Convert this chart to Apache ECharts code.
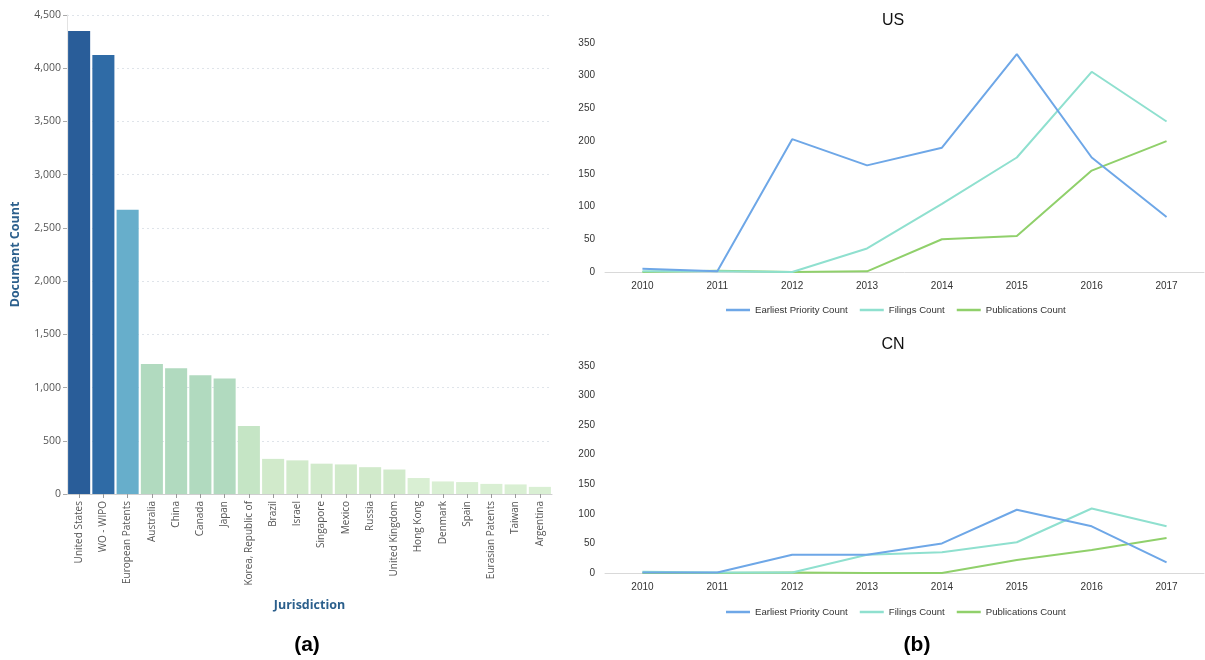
<!DOCTYPE html>
<html>
<head>
<meta charset="utf-8">
<script src="https://cdn.jsdelivr.net/npm/echarts@6/dist/echarts.min.js"></script>
<style>html,body{margin:0;padding:0;background:#fff}#c{width:1205px;height:660px}</style>
</head>
<body>
<div id="c"></div>
<script>
// ---- Data (a) ----
const jurisdictions = ['United States','WO - WIPO','European Patents','Australia','China','Canada','Japan','Korea, Republic of','Brazil','Israel','Singapore','Mexico','Russia','United Kingdom','Hong Kong','Denmark','Spain','Eurasian Patents','Taiwan','Argentina'];
const documentCounts = [4350, 4125, 2670, 1222, 1182, 1115, 1085, 640, 330, 316, 285, 278, 252, 230, 150, 118, 112, 95, 90, 67];

// ---- Data (b) ----
const years = ['2010','2011','2012','2013','2014','2015','2016','2017'];
const seriesNames = ['Earliest Priority Count','Filings Count','Publications Count'];
const usEarliest = [5, 1, 203, 163, 190, 333, 175, 84];
const usFilings = [1, 1, 0, 36, 104, 175, 306, 230];
const usPublications = [0, 2, 0, 1, 50, 55, 155, 200];
const cnEarliest = [1, 1, 31, 31, 50, 107, 79, 18];
const cnFilings = [2, 1, 1, 31, 35, 52, 109, 79];
const cnPublications = [0, 0, 1, 0, 0, 22, 39, 59];
const panelTitles = ['US', 'CN'];
const captions = ['(a)', '(b)'];
const lineTicksMax = 350;

const lineColors = ['#6ea7e7', '#8fe0cf', '#90d06b'];

function barColor(v) {
  if (v >= 4300) return '#295d99';
  if (v >= 4000) return '#2f6ba6';
  if (v >= 2000) return '#67aecb';
  if (v >= 1000) return '#b1dabf';
  if (v >= 500) return '#c5e5c5';
  if (v >= 200) return '#d1eacb';
  return '#d9efd3';
}

const chart = echarts.init(document.getElementById('c'));
const lineFont = 'Liberation Sans, Arial, Helvetica, sans-serif';

function lineSeries(xi, vals, k) {
  return {
    name: seriesNames[k], type: 'line', xAxisIndex: xi, yAxisIndex: xi,
    data: vals, symbol: 'none', smooth: false,
    lineStyle: { width: 2, color: lineColors[k] }, itemStyle: { color: lineColors[k] },
    z: 3 - k
  };
}

function lineX(gi) {
  return {
    type: 'category', gridIndex: gi, data: years, boundaryGap: true,
    axisLine: { show: true, lineStyle: { color: '#d9d9d9', width: 1 } },
    axisTick: { show: false },
    axisLabel: { color: '#333', fontSize: 10, fontFamily: lineFont, margin: 9 }
  };
}
function lineY(gi) {
  return {
    type: 'value', gridIndex: gi, min: 0, max: lineTicksMax, interval: 50,
    axisLine: { show: false }, axisTick: { show: false },
    splitLine: { show: false },
    axisLabel: { color: '#333', fontSize: 10, fontFamily: lineFont, margin: 10 }
  };
}
function legendAt(top) {
  return {
    data: seriesNames, top: top, left: 721, icon: 'rect', itemWidth: 24, itemHeight: 2.5, itemGap: 12,
    textStyle: { color: '#333', fontSize: 9.6, fontFamily: lineFont }, selectedMode: false
  };
}
function textEl(str, x, y, size, weight, color) {
  return { type: 'text', x: x, y: y, style: { text: str, fontSize: size, fontWeight: weight, fill: color,
    fontFamily: lineFont, align: 'center', verticalAlign: 'middle' } };
}

chart.setOption({
  animation: false,
  graphic: [
    textEl(panelTitles[0], 893, 21, 16, 'normal', '#111'),
    textEl(panelTitles[1], 893, 345, 16, 'normal', '#111'),
    textEl(captions[0], 307, 645, 21, 'bold', '#000'),
    textEl(captions[1], 917, 645, 21, 'bold', '#000')
  ],
  legend: [legendAt(300), legendAt(602)],
  grid: [
    { left: 67, right: 653, top: 15, bottom: 166, containLabel: false },
    { left: 605, right: 1, top: 43, height: 229, containLabel: false },
    { left: 605, right: 1, top: 366, height: 207, containLabel: false }
  ],
  xAxis: [
    {
      type: 'category', gridIndex: 0, data: jurisdictions,
      name: 'Jurisdiction', nameLocation: 'middle', nameGap: 105,
      nameTextStyle: { fontSize: 12.5, fontWeight: 'bold', color: '#2b5f8c', fontFamily: 'Open Sans, sans-serif' },
      axisLine: { show: true, lineStyle: { color: '#cfcfcf' } },
      axisTick: { show: true, alignWithLabel: true, length: 4, lineStyle: { color: '#999' } },
      axisLabel: { rotate: 90, interval: 0, fontSize: 10, color: '#555', fontFamily: 'Open Sans, sans-serif', margin: 7 }
    },
    lineX(1), lineX(2)
  ],
  yAxis: [
    {
      type: 'value', gridIndex: 0, min: 0, max: 4500, interval: 500,
      name: 'Document Count', nameLocation: 'middle', nameGap: 45, nameRotate: 90,
      nameTextStyle: { fontSize: 12.5, fontWeight: 'bold', color: '#2b5f8c', fontFamily: 'Open Sans, sans-serif' },
      axisLine: { show: true, lineStyle: { color: '#e3e3e3' } },
      axisTick: { show: true, length: 4, lineStyle: { color: '#aaa' } },
      axisLabel: { fontSize: 10.5, color: '#555', fontFamily: 'Open Sans, sans-serif', margin: 6,
        formatter: v => v.toLocaleString('en-US') },
      splitLine: { show: true, lineStyle: { color: '#dfe4ea', type: [2, 3] } }
    },
    lineY(1), lineY(2)
  ],
  series: [
    {
      name: 'Document Count', type: 'bar', xAxisIndex: 0, yAxisIndex: 0,
      data: documentCounts, barCategoryGap: '9%',
      itemStyle: { color: p => barColor(p.value) }
    },
    lineSeries(1, usEarliest, 0), lineSeries(1, usFilings, 1), lineSeries(1, usPublications, 2),
    lineSeries(2, cnEarliest, 0), lineSeries(2, cnFilings, 1), lineSeries(2, cnPublications, 2)
  ]
});
</script>
</body>
</html>
